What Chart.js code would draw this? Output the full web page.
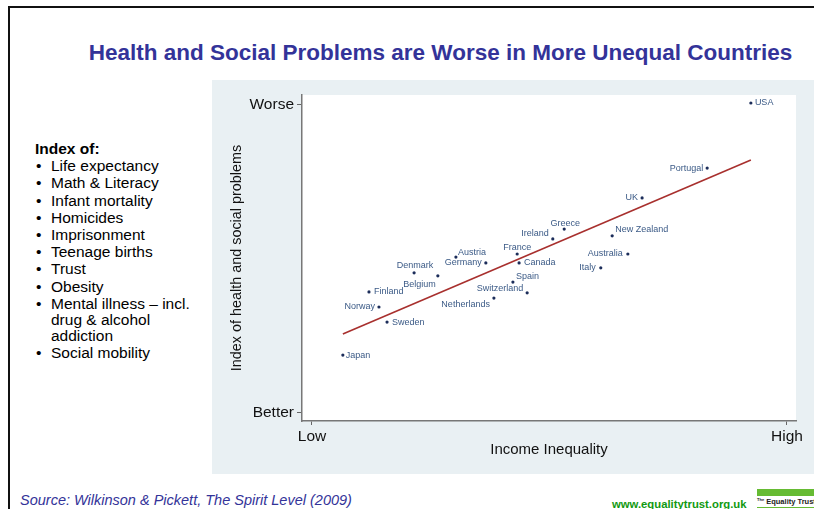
<!DOCTYPE html>
<html>
<head>
<meta charset="utf-8">
<title>Health and Social Problems</title>
<script src="https://cdn.jsdelivr.net/npm/chart.js@4.4.1/dist/chart.umd.min.js"></script>
<style>
  body { margin: 0; width: 814px; height: 509px; overflow: hidden; background: #fff;
         position: relative; font-family: "Liberation Sans", Arial, sans-serif; }
  .frame-top { position: absolute; left: 8px; top: 6px; width: 806px; height: 2px; background: #111; }
  .frame-left { position: absolute; left: 8px; top: 6px; width: 2px; height: 503px; background: #111; }
  h1 { position: absolute; left: 0; width: 881px; top: 40px; margin: 0; text-align: center;
       font-size: 22.5px; font-weight: bold; color: #333399; white-space: nowrap; }
  .index { position: absolute; left: 35px; top: 141px; font-size: 15.5px; color: #000; }
  .index b { display: block; line-height: 16px; }
  .index ul { list-style: none; margin: 0; padding: 0; }
  .index li { position: relative; padding-left: 16px; line-height: 16px; margin-top: 1.2px; white-space: nowrap; }
  .index li:before { content: "\2022"; position: absolute; left: 1px; top: 0; }
  #wrap { position: absolute; left: 212px; top: 80px; width: 602px; height: 394px; }
  .source { position: absolute; left: 20px; top: 492px; font-size: 14.5px; font-style: italic; color: #333399; white-space: nowrap; }
  .web { position: absolute; left: 612px; top: 498px; font-size: 11.3px; font-weight: bold; color: #119911; white-space: nowrap; }
  .logo-bar { position: absolute; left: 757px; top: 489px; width: 57px; height: 7px; background: #66bb33; }
  .logo-txt { position: absolute; left: 757px; top: 497px; font-size: 7.5px; font-weight: bold; color: #222; white-space: nowrap; }
  .logo-txt small { font-size: 4px; vertical-align: top; }
  .logo-line { position: absolute; left: 757px; top: 507px; width: 57px; height: 1px; background: #66bb33; }
</style>
</head>
<body>
<div class="frame-top"></div>
<div class="frame-left"></div>
<h1>Health and Social Problems are Worse in More Unequal Countries</h1>
<div class="index">
  <b>Index of:</b>
  <ul>
    <li>Life expectancy</li>
    <li>Math &amp; Literacy</li>
    <li>Infant mortality</li>
    <li>Homicides</li>
    <li>Imprisonment</li>
    <li>Teenage births</li>
    <li>Trust</li>
    <li>Obesity</li>
    <li>Mental illness – incl.<br>drug &amp; alcohol<br>addiction</li>
    <li>Social mobility</li>
  </ul>
</div>
<div id="wrap"><canvas id="chart" width="602" height="394"></canvas></div>
<div class="source">Source: Wilkinson &amp; Pickett, The Spirit Level (2009)</div>
<div class="web">www.equalitytrust.org.uk</div>
<div class="logo-bar"></div>
<div class="logo-txt"><small>The</small> Equality Trust</div>
<div class="logo-line"></div>
<script>
// values: 0 = Low / Better, 1 = High / Worse
var countries = ['USA', 'Portugal', 'UK', 'New Zealand', 'Greece', 'Ireland', 'France', 'Canada',
    'Australia', 'Italy', 'Spain', 'Switzerland', 'Netherlands', 'Austria', 'Germany', 'Denmark',
    'Belgium', 'Finland', 'Norway', 'Sweden', 'Japan'];
var inequality = [0.924, 0.832, 0.695, 0.632, 0.531, 0.507, 0.432, 0.436,
    0.665, 0.608, 0.423, 0.453, 0.383, 0.303, 0.366, 0.215,
    0.265, 0.120, 0.141, 0.158, 0.065];
var problems = [1.006, 0.795, 0.698, 0.575, 0.597, 0.565, 0.516, 0.487,
    0.516, 0.471, 0.425, 0.390, 0.373, 0.506, 0.487, 0.455,
    0.445, 0.393, 0.344, 0.295, 0.188];
var fitX = [0.065, 0.924];
var fitY = [0.256, 0.821];
var xTickLabels = ['Low', 'High'];
var yTickLabels = ['Better', 'Worse'];

// where each country name sits next to its dot: [align, dx, dy]
var labelSpots = {
    'USA': ['left', 4, 0], 'Portugal': ['right', -4, 0], 'UK': ['right', -4, 0],
    'New Zealand': ['left', 3, -6], 'Greece': ['center', 1, -6], 'Ireland': ['right', -4, -5],
    'France': ['center', 0, -6], 'Canada': ['left', 5, 0], 'Australia': ['right', -5, 0],
    'Italy': ['right', -5, 0], 'Spain': ['left', 3, -6], 'Switzerland': ['right', -4, -4],
    'Netherlands': ['right', -4, 6], 'Austria': ['left', 2, -5], 'Germany': ['right', -4, 0],
    'Denmark': ['center', 1, -7], 'Belgium': ['right', -2, 9], 'Finland': ['left', 5, 0],
    'Norway': ['right', -4, 0], 'Sweden': ['left', 5, 0], 'Japan': ['left', 3, 0]
};

var panelBg = {
    id: 'panelBg',
    beforeDraw: function(chart) {
        var ctx = chart.ctx, a = chart.chartArea;
        ctx.save();
        ctx.fillStyle = '#e9f0f3';
        ctx.fillRect(0, 0, chart.width, chart.height);
        ctx.fillStyle = '#ffffff';
        ctx.fillRect(a.left, a.top, a.right - a.left, a.bottom - a.top);
        ctx.restore();
    }
};

var pointNames = {
    id: 'pointNames',
    afterDatasetsDraw: function(chart) {
        var ctx = chart.ctx;
        var pts = chart.getDatasetMeta(0).data;
        ctx.save();
        ctx.font = '9px "Liberation Sans", Arial, sans-serif';
        ctx.fillStyle = '#3b5a86';
        ctx.textBaseline = 'middle';
        pts.forEach(function(p, i) {
            var s = labelSpots[countries[i]];
            ctx.textAlign = s[0];
            ctx.fillText(countries[i], p.x + s[1], p.y + s[2]);
        });
        ctx.restore();
    }
};

var twoTicks = function(scale) {
    scale.ticks = [{ value: 0 }, { value: 1 }];
};

var axisFont = { family: '"Liberation Sans", Arial, sans-serif', size: 15.5 };

new Chart(document.getElementById('chart'), {
    type: 'scatter',
    data: {
        datasets: [{
            label: 'Countries',
            data: countries.map(function(c, i) { return { x: inequality[i], y: problems[i] }; }),
            pointRadius: 1.6,
            pointHoverRadius: 1.6,
            pointBorderWidth: 0,
            backgroundColor: '#1c2d5a',
            borderColor: '#1c2d5a'
        }, {
            type: 'line',
            label: 'Fit',
            data: fitX.map(function(x, i) { return { x: x, y: fitY[i] }; }),
            borderColor: '#a8302e',
            borderWidth: 1.6,
            pointRadius: 0,
            fill: false
        }]
    },
    options: {
        responsive: false,
        animation: false,
        devicePixelRatio: 1,
        layout: { padding: { top: 15, right: 18, left: 0, bottom: 0 } },
        plugins: { legend: { display: false }, tooltip: { enabled: false } },
        scales: {
            x: {
                type: 'linear',
                min: -0.021,
                max: 1.019,
                afterBuildTicks: twoTicks,
                afterFit: function(s) { s.height = 53; },
                grid: { drawOnChartArea: false, tickLength: 4, color: '#666' },
                border: { color: '#777', width: 1.5 },
                ticks: {
                    padding: 2,
                    color: '#111',
                    font: axisFont,
                    callback: function(v, i) { return xTickLabels[i]; }
                },
                title: {
                    display: true,
                    text: 'Income Inequality',
                    color: '#111',
                    padding: { top: 0, bottom: 15 },
                    font: { family: '"Liberation Sans", Arial, sans-serif', size: 15 }
                }
            },
            y: {
                type: 'linear',
                min: -0.026,
                max: 1.032,
                afterBuildTicks: twoTicks,
                afterFit: function(s) { s.width = 90; },
                grid: { drawOnChartArea: false, tickLength: 5, color: '#666' },
                border: { color: '#777', width: 1.5 },
                ticks: {
                    padding: 3,
                    color: '#111',
                    font: axisFont,
                    callback: function(v, i) { return yTickLabels[i]; }
                },
                title: {
                    display: true,
                    text: 'Index of health and social problems',
                    color: '#111',
                    padding: { top: 16, bottom: 0 },
                    font: { family: '"Liberation Sans", Arial, sans-serif', size: 14.4 }
                }
            }
        }
    },
    plugins: [panelBg, pointNames]
});
</script>
</body>
</html>
